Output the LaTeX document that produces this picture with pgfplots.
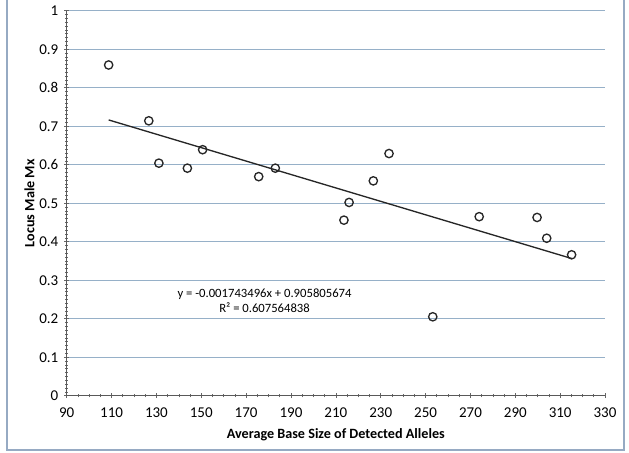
\documentclass[border=0pt]{standalone}
\usepackage{pgfplots}
\pgfplotsset{compat=1.18}
\usepackage{fontspec}
\setmainfont{Carlito}
\definecolor{gridc}{RGB}{150,176,200}
\definecolor{framec}{RGB}{150,170,195}
\begin{document}
\begin{tikzpicture}[x=0.6pt,y=0.6pt]
\useasboundingbox (0,0) rectangle (629,452);
\draw[framec,line width=1.4pt] (7,460) -- (7,2) -- (624,2) -- (624,460);
\begin{axis}[
  at={(40.02pt,33.78pt)}, anchor=origin,
  scale only axis, width=323pt, height=231pt,
  xmin=90, xmax=330, ymin=0, ymax=1,
  xtick={90,110,...,330}, ytick={0,0.1,...,1},
  yticklabels={0,0.1,0.2,0.3,0.4,0.5,0.6,0.7,0.8,0.9,1},
  minor x tick num=3, minor y tick num=9,
  axis x line*=bottom, axis y line*=left,
  axis line style={black!65, line width=0.6pt},
  ymajorgrids, major grid style={gridc, line width=0.6pt},
  tick style={black!60, line width=0.4pt},
  major tick length=3pt, minor tick length=2pt,
  tick align=center,
  /pgf/number format/assume math mode=true,
  ticklabel style={font=\fontsize{9}{10}\selectfont, text=black},
  xticklabel style={yshift=-2pt},
  xlabel={\textbf{Average Base Size of Detected Alleles}},
  ylabel={\textbf{Locus Male Mx}},
  label style={font=\fontsize{8.5}{10}\selectfont, text=black},
  xlabel style={yshift=0pt},
  ylabel style={yshift=-4pt},
  clip=false,
]
\addplot[only marks, mark=o, mark size=2.5pt, mark options={line width=0.8pt, black!85}] coordinates {
(108.7,0.859) (126.6,0.714) (131.1,0.604) (143.8,0.591) (150.6,0.639)
(175.6,0.569) (183.0,0.591) (213.6,0.456) (215.9,0.502) (226.7,0.558)
(233.7,0.629) (253.2,0.205) (273.9,0.465) (299.7,0.463) (304.0,0.409)
(315.1,0.366)
};
\addplot[black!85, line width=0.8pt] coordinates {(108.7,0.716286) (315.1,0.356428)};
\node[align=center, font=\fontsize{7.6}{9}\selectfont, text=black] at (axis cs:178.2,0.247)
  {y = -0.001743496x + 0.905805674\\R² = 0.607564838};
\end{axis}
\end{tikzpicture}
\end{document}
